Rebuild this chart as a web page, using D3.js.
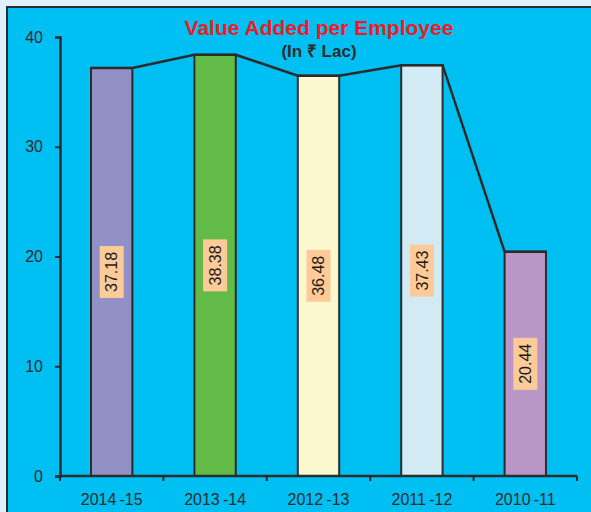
<!DOCTYPE html>
<html>
<head>
<meta charset="utf-8">
<script src="https://cdn.jsdelivr.net/npm/d3@7"></script>
<style>
  body { margin: 0; background: #dff0fa; }
  svg { display: block; font-family: Arial, "Liberation Sans", sans-serif; }
</style>
</head>
<body>
<div id="chart"></div>
<script>
var years = ["2014-15", "2013-14", "2012-13", "2011-12", "2010-11"];
var tickLabels = ["2014\u2009-15", "2013\u2009-14", "2012\u2009-13", "2011\u2009-12", "2010\u2009-11"];
var values = [37.18, 38.38, 36.48, 37.43, 20.44];
var barColors = ["#9191c6", "#62bb46", "#fbf8cf", "#d2eaf3", "#b897c6"];
var yTicks = [0, 10, 20, 30, 40];

var W = 591, H = 512;
var svg = d3.select("#chart").append("svg").attr("width", W).attr("height", H);

// frame
svg.append("rect")
   .attr("x", 7).attr("y", 7)
   .attr("width", W).attr("height", H)
   .style("fill", "#00bff3")
   .style("stroke", "#2b2b2b")
   .style("stroke-width", 2);

var x = d3.scaleBand().domain(years).range([60, 577]).paddingInner(0.6).paddingOuter(0.3);
var y = d3.scaleLinear().domain([0, 40]).range([476, 37]);

// bars
svg.selectAll(".bar")
   .data(values)
   .enter().append("rect")
   .attr("class", "bar")
   .attr("x", function(d, i) { return x(years[i]); })
   .attr("width", x.bandwidth())
   .attr("y", function(d) { return y(d); })
   .attr("height", function(d) { return y(0) - y(d); })
   .style("fill", function(d, i) { return barColors[i]; })
   .style("stroke", "#2b2b2b")
   .style("stroke-width", 2);

// line along bar tops
var pts = [];
values.forEach(function(d, i) {
  pts.push([x(years[i]), y(d)]);
  pts.push([x(years[i]) + x.bandwidth(), y(d)]);
});
svg.append("path")
   .attr("d", d3.line()(pts))
   .style("fill", "none")
   .style("stroke", "#2b2b2b")
   .style("stroke-width", 2.5);

// axes
var xOuter = d3.scaleBand().domain(years).range([60, 577]);
var xAxis = svg.append("g")
   .attr("transform", "translate(0," + y(0) + ")")
   .call(d3.axisBottom(xOuter).tickSize(0).tickFormat(function(d, i) { return tickLabels[i]; }));
xAxis.select(".domain").remove();
xAxis.selectAll("text").attr("dy", "1.65em").style("font-size", "16px").style("fill", "#2b2b2b")
     .style("font-family", "Arial, 'Liberation Sans', sans-serif");

var bounds = [60].concat(years.map(function(d) { return xOuter(d) + xOuter.bandwidth(); }));
svg.selectAll(".xtick")
   .data(bounds)
   .enter().append("line")
   .attr("x1", function(d) { return d; }).attr("x2", function(d) { return d; })
   .attr("y1", y(0)).attr("y2", y(0) + 5)
   .style("stroke", "#2b2b2b").style("stroke-width", 2);
svg.append("line")
   .attr("x1", 60).attr("x2", 577)
   .attr("y1", y(0)).attr("y2", y(0))
   .style("stroke", "#2b2b2b").style("stroke-width", 2.5);

var yAxis = svg.append("g")
   .attr("transform", "translate(60,0)")
   .call(d3.axisLeft(y).tickValues(yTicks).tickSize(5).tickPadding(12));
yAxis.select(".domain").style("stroke", "#2b2b2b").style("stroke-width", 2.5);
yAxis.selectAll(".tick line").style("stroke", "#2b2b2b").style("stroke-width", 2);
yAxis.selectAll("text").style("font-size", "16px").style("fill", "#2b2b2b")
     .style("font-family", "Arial, 'Liberation Sans', sans-serif");

// value labels
var labels = svg.selectAll(".lbl")
   .data(values)
   .enter().append("g")
   .attr("class", "lbl")
   .attr("transform", function(d, i) {
     return "translate(" + (x(years[i]) + x.bandwidth() / 2) + "," + ((y(d) + y(0)) / 2) + ") rotate(-90)";
   });
labels.append("rect")
   .attr("x", -26).attr("y", -12)
   .attr("width", 52).attr("height", 24)
   .style("fill", "#fdca98");
labels.append("text")
   .attr("text-anchor", "middle")
   .attr("dy", "0.36em")
   .style("font-size", "16px")
   .style("fill", "#1a1a1a")
   .text(function(d) { return d.toFixed(2); });

// titles
svg.append("text")
   .attr("x", 319).attr("y", 35)
   .attr("text-anchor", "middle")
   .style("font-size", "21px").style("font-weight", "bold")
   .style("fill", "#ed1c24")
   .text("Value Added per Employee");
svg.append("text")
   .attr("x", 319).attr("y", 57)
   .attr("text-anchor", "middle")
   .style("font-size", "17px").style("font-weight", "bold")
   .style("fill", "#2b2b2b")
   .text("(In ₹ Lac)");
</script>
</body>
</html>
